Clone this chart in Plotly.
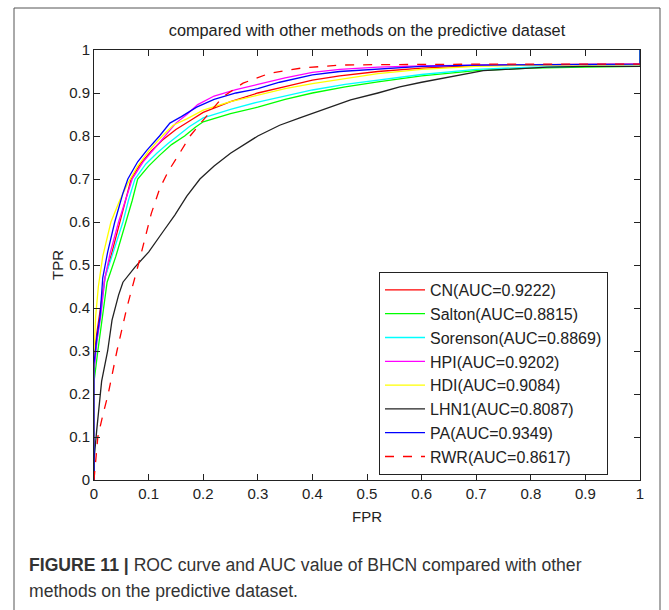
import plotly.graph_objects as go

# ---- data ----
cn_fpr = [0, 0, 0.005, 0.012, 0.02, 0.033, 0.047, 0.058, 0.068, 0.085, 0.105, 0.125, 0.15, 0.175, 0.2, 0.25, 0.3, 0.35, 0.4, 0.45, 0.52, 0.6, 0.7, 0.8, 0.9, 1.0]
cn_tpr = [0, 0.28, 0.34, 0.40, 0.47, 0.53, 0.60, 0.65, 0.70, 0.735, 0.765, 0.79, 0.815, 0.835, 0.855, 0.88, 0.90, 0.915, 0.93, 0.94, 0.95, 0.958, 0.964, 0.966, 0.967, 0.967]

salton_fpr = [0, 0, 0.007, 0.015, 0.024, 0.04, 0.059, 0.07, 0.08, 0.1, 0.12, 0.142, 0.166, 0.185, 0.2, 0.25, 0.3, 0.35, 0.4, 0.46, 0.52, 0.6, 0.7, 0.8, 0.9, 1.0, 1.0]
salton_tpr = [0, 0.228, 0.30, 0.37, 0.46, 0.52, 0.60, 0.65, 0.70, 0.73, 0.755, 0.78, 0.80, 0.82, 0.833, 0.852, 0.867, 0.885, 0.90, 0.914, 0.926, 0.94, 0.952, 0.958, 0.96, 0.962, 1.0]

sorenson_fpr = [0, 0, 0.006, 0.013, 0.02, 0.035, 0.053, 0.063, 0.075, 0.095, 0.115, 0.135, 0.154, 0.175, 0.2, 0.25, 0.3, 0.35, 0.4, 0.46, 0.52, 0.6, 0.7, 0.8, 0.9, 1.0]
sorenson_tpr = [0, 0.26, 0.33, 0.39, 0.47, 0.53, 0.60, 0.65, 0.70, 0.735, 0.76, 0.782, 0.80, 0.822, 0.842, 0.862, 0.879, 0.893, 0.907, 0.92, 0.93, 0.943, 0.955, 0.96, 0.962, 0.962]

hpi_fpr = [0, 0, 0.005, 0.012, 0.02, 0.03, 0.045, 0.06, 0.07, 0.09, 0.11, 0.13, 0.15, 0.17, 0.19, 0.22, 0.26, 0.3, 0.35, 0.4, 0.45, 0.52, 0.6, 0.7, 0.8, 0.9, 1.0]
hpi_tpr = [0, 0.25, 0.32, 0.38, 0.47, 0.53, 0.60, 0.66, 0.70, 0.74, 0.77, 0.80, 0.83, 0.85, 0.873, 0.893, 0.908, 0.92, 0.935, 0.948, 0.955, 0.96, 0.963, 0.965, 0.966, 0.967, 0.967]

hdi_fpr = [0, 0, 0.003, 0.008, 0.016, 0.031, 0.047, 0.062, 0.08, 0.1, 0.125, 0.145, 0.17, 0.2, 0.25, 0.3, 0.35, 0.4, 0.45, 0.52, 0.6, 0.7, 0.8, 0.9, 1.0]
hdi_tpr = [0, 0.30, 0.38, 0.45, 0.52, 0.60, 0.65, 0.69, 0.73, 0.765, 0.80, 0.825, 0.84, 0.86, 0.88, 0.895, 0.91, 0.922, 0.932, 0.945, 0.955, 0.962, 0.965, 0.966, 0.966]

lhn1_fpr = [0, 0, 0.005, 0.014, 0.025, 0.033, 0.045, 0.053, 0.075, 0.1, 0.125, 0.148, 0.17, 0.194, 0.22, 0.25, 0.3, 0.34, 0.377, 0.42, 0.47, 0.52, 0.56, 0.6, 0.65, 0.713, 0.83, 0.9, 1.0]
lhn1_tpr = [0, 0.047, 0.116, 0.23, 0.30, 0.372, 0.43, 0.46, 0.495, 0.53, 0.575, 0.616, 0.66, 0.70, 0.73, 0.76, 0.80, 0.825, 0.842, 0.862, 0.884, 0.90, 0.914, 0.925, 0.937, 0.952, 0.96, 0.962, 0.962]

pa_fpr = [0, 0, 0.005, 0.011, 0.016, 0.025, 0.038, 0.053, 0.062, 0.08, 0.097, 0.12, 0.139, 0.16, 0.188, 0.22, 0.26, 0.3, 0.34, 0.4, 0.45, 0.52, 0.6, 0.7, 0.8, 0.9, 1.0, 1.0]
pa_tpr = [0, 0.27, 0.33, 0.38, 0.47, 0.53, 0.60, 0.667, 0.70, 0.74, 0.767, 0.80, 0.83, 0.845, 0.867, 0.885, 0.90, 0.91, 0.925, 0.942, 0.95, 0.956, 0.962, 0.965, 0.966, 0.967, 0.967, 1.0]

rwr_fpr = [0, 0.007, 0.016, 0.026, 0.042, 0.06, 0.081, 0.093, 0.105, 0.121, 0.137, 0.152, 0.176, 0.2, 0.236, 0.273, 0.322, 0.38, 0.45, 0.52, 0.6, 0.7, 0.8, 0.9, 1.0]
rwr_tpr = [0, 0.10, 0.15, 0.20, 0.30, 0.40, 0.50, 0.56, 0.62, 0.68, 0.72, 0.75, 0.80, 0.837, 0.891, 0.923, 0.946, 0.958, 0.965, 0.966, 0.967, 0.967, 0.967, 0.967, 0.967]

series_names = ["CN(AUC=0.9222)", "Salton(AUC=0.8815)", "Sorenson(AUC=0.8869)",
                "HPI(AUC=0.9202)", "HDI(AUC=0.9084)", "LHN1(AUC=0.8087)",
                "PA(AUC=0.9349)", "RWR(AUC=0.8617)"]
series_x = [cn_fpr, salton_fpr, sorenson_fpr, hpi_fpr, hdi_fpr, lhn1_fpr, pa_fpr, rwr_fpr]
series_y = [cn_tpr, salton_tpr, sorenson_tpr, hpi_tpr, hdi_tpr, lhn1_tpr, pa_tpr, rwr_tpr]
series_colors = ["#ff0000", "#00ff00", "#00ffff", "#ff00ff", "#ffff00", "#222222", "#0000ff", "#ff0000"]
series_dash = ["solid"] * 7 + ["dash"]

tick_vals = [0, 0.1, 0.2, 0.3, 0.4, 0.5, 0.6, 0.7, 0.8, 0.9, 1]
tick_text = ["0", "0.1", "0.2", "0.3", "0.4", "0.5", "0.6", "0.7", "0.8", "0.9", "1"]

title_text = "compared with other methods on the predictive dataset"
caption_1 = "<b>FIGURE 11 |</b> ROC curve and AUC value of BHCN compared with other"
caption_2 = "methods on the predictive dataset."

# ---- figure ----
W, H = 669, 610
L, R, T, B = 94, 29, 50, 130
pw, ph = W - L - R, H - T - B

def px_x(p):
    return (p - L) / pw

def px_y(p):
    return (H - B - p) / ph

fig = go.Figure()
for name, xs, ys, c, d in zip(series_names, series_x, series_y, series_colors, series_dash):
    fig.add_trace(go.Scatter(x=xs, y=ys, mode="lines", name=name,
                             line=dict(color=c, width=1.3, dash=d)))

font_main = "Liberation Sans, Arial, sans-serif"
axis_common = dict(range=[0, 1], tickvals=tick_vals, ticktext=tick_text,
                   showline=True, linecolor="#222", linewidth=1, mirror="ticks",
                   ticks="inside", ticklen=6, tickcolor="#222", showgrid=False,
                   zeroline=False, tickfont=dict(size=15, color="#222", family=font_main),
                   fixedrange=True)

fig.update_layout(
    width=W, height=H,
    margin=dict(l=L, r=R, t=T, b=B),
    paper_bgcolor="white", plot_bgcolor="white",
    font=dict(family=font_main, color="#222"),
    title=dict(text=title_text, x=0.5, xref="paper", xanchor="center",
               y=1 - 30 / H, yref="container", yanchor="middle",
               font=dict(size=16.3, color="#222", family=font_main)),
    xaxis=dict(**axis_common, title=dict(text="FPR", font=dict(size=15, color="#222"), standoff=10)),
    yaxis=dict(**axis_common, title=dict(text="TPR", font=dict(size=15, color="#222"), standoff=1)),
    legend=dict(x=px_x(379), y=px_y(272), xanchor="left", yanchor="top",
                bordercolor="#222", borderwidth=1, bgcolor="white",
                font=dict(size=16, color="#222", family=font_main),
                itemwidth=40, tracegroupgap=0),
    showlegend=True,
)

# outer frame
fig.add_shape(type="rect", xref="paper", yref="paper",
              x0=px_x(14), x1=px_x(660), y0=px_y(640), y1=px_y(8),
              line=dict(color="#555", width=1), fillcolor="rgba(0,0,0,0)", layer="below")

fig.add_annotation(text=caption_1, xref="paper", yref="paper", x=px_x(27), y=px_y(565),
                   xanchor="left", yanchor="middle", showarrow=False, align="left",
                   font=dict(size=17.6, color="#333", family=font_main))
fig.add_annotation(text=caption_2, xref="paper", yref="paper", x=px_x(27), y=px_y(591),
                   xanchor="left", yanchor="middle", showarrow=False, align="left",
                   font=dict(size=17.6, color="#333", family=font_main))

fig.write_html("out.html")
